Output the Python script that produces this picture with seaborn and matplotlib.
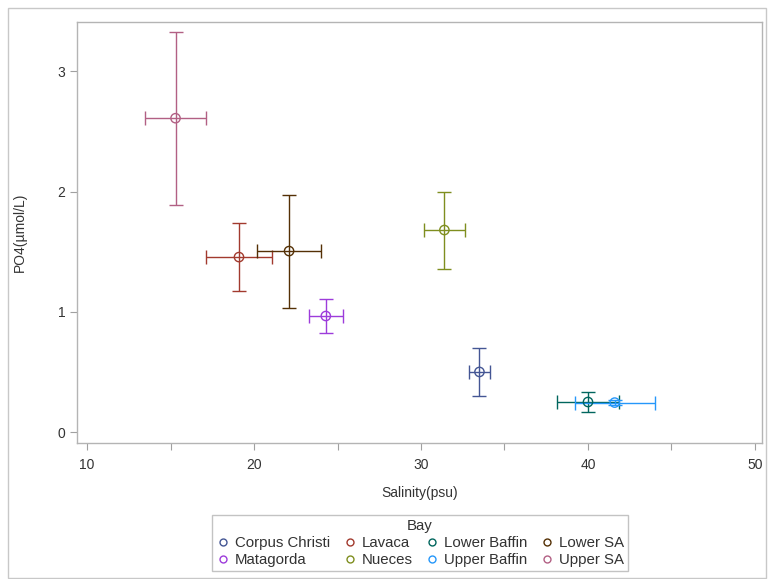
import matplotlib
matplotlib.use("Agg")
import matplotlib.pyplot as plt
import pandas as pd
import seaborn as sns
from matplotlib.patches import Rectangle
from matplotlib.ticker import MultipleLocator

# values (mean +/- error)
bays = ["Corpus Christi", "Lavaca", "Lower Baffin", "Lower SA",
        "Matagorda", "Nueces", "Upper Baffin", "Upper SA"]
salinity = [33.5, 19.1, 40.0, 22.1, 24.3, 31.4, 41.6, 15.3]
salinity_err = [0.63, 2.0, 1.83, 1.9, 1.0, 1.22, 2.4, 1.8]
po4 = [0.50, 1.455, 0.25, 1.505, 0.965, 1.68, 0.245, 2.61]
po4_err = [0.20, 0.28, 0.08, 0.47, 0.145, 0.32, 0.02, 0.72]

palette = ["#445694", "#A23A2E", "#01665E", "#543005",
           "#9D3CDB", "#7F8E1F", "#2597FA", "#B26084"]

df = pd.DataFrame({
    "Bay": bays,
    "salinity": salinity,
    "salinity_err": salinity_err,
    "po4": po4,
    "po4_err": po4_err,
})

sns.set_style("white")
plt.rcParams["font.family"] = ["Liberation Sans", "DejaVu Sans"]
plt.rcParams["font.size"] = 10

fig = plt.figure(figsize=(7.68, 5.79), dpi=100)
ax = fig.add_axes([77 / 768, 1 - 443 / 579, (762 - 77) / 768, (443 - 22) / 579])

for i, row in df.iterrows():
    ax.errorbar(row.salinity, row.po4, xerr=row.salinity_err, yerr=row.po4_err,
                fmt="none", ecolor=palette[i], elinewidth=1.0, capsize=5,
                capthick=1.0, zorder=2)

sns.scatterplot(data=df, x="salinity", y="po4", hue="Bay", hue_order=bays,
                palette=palette, ax=ax, s=45, marker="o", facecolor="none",
                linewidth=1.0, zorder=3, legend=False)
# open markers colored by group
coll = ax.collections[-1]
coll.set_facecolor("none")
coll.set_edgecolor(palette)

ax.set_xlim(9.4, 50.42)
ax.set_ylim(-0.091, 3.41)
ax.xaxis.set_major_locator(MultipleLocator(10))
ax.xaxis.set_minor_locator(MultipleLocator(5))
ax.yaxis.set_major_locator(MultipleLocator(1))
ax.tick_params(which="both", direction="out", color="#A0A0A0", labelcolor="#333333",
               bottom=True, left=True)
ax.tick_params(which="major", length=5, width=0.8, labelsize=10)
ax.tick_params(axis="x", which="minor", length=5, width=0.8)
ax.tick_params(axis="x", which="major", pad=6)
ax.set_xlabel("Salinity(psu)", color="#333333", fontsize=10, labelpad=10)
ax.set_ylabel("PO4(µmol/L)", color="#333333", fontsize=10, labelpad=22)
for sp in ax.spines.values():
    sp.set_color("#B4B4B4")
    sp.set_linewidth(1.0)

handles = [plt.Line2D([], [], marker="o", linestyle="none", markersize=5,
                      markerfacecolor="none", markeredgecolor=c, markeredgewidth=1.0)
           for c in palette]
# legend fills by column; reorder so it reads row by row like the reference
order = [0, 4, 1, 5, 2, 6, 3, 7]
leg = fig.legend([handles[k] for k in order], [bays[k] for k in order],
                 title="Bay", ncol=4, loc="center",
                 bbox_to_anchor=(420 / 768, 1 - 543 / 579), frameon=True,
                 fancybox=False, fontsize=10.8, title_fontsize=10.8,
                 handletextpad=0.3, columnspacing=0.8, handlelength=1.0,
                 borderpad=0.25, labelspacing=0.2, edgecolor="#B4B4B4")
leg.get_frame().set_linewidth(1.0)
for t in leg.get_texts():
    t.set_color("#333333")
leg.get_title().set_color("#333333")

# outer border of the graph
fig.patches.append(Rectangle((8 / 768, 1 / 579), 758 / 768, 570 / 579,
                             transform=fig.transFigure, fill=False,
                             edgecolor="#C8C8C8", linewidth=1.0))

fig.savefig("out.png", dpi=100)
